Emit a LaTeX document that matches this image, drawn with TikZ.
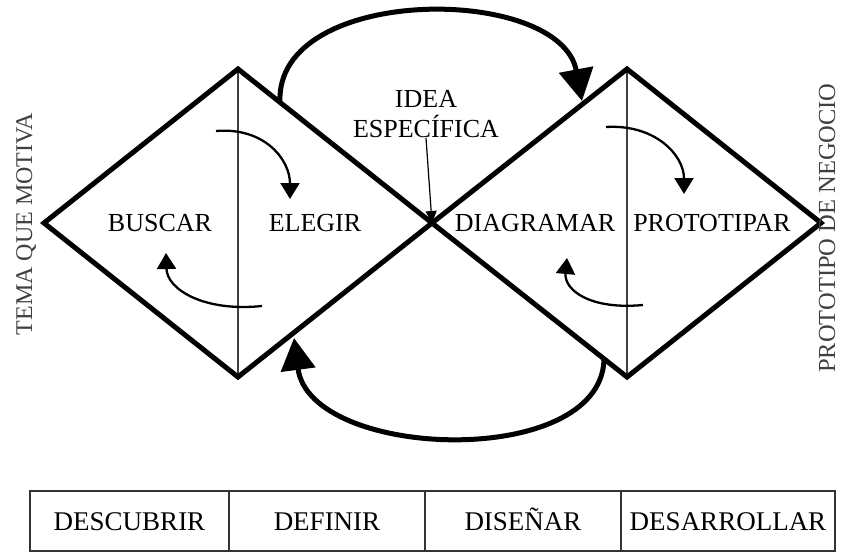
\documentclass[tikz,border=0pt]{standalone}
\usepackage{fontspec}
\setmainfont{Liberation Serif}
\usetikzlibrary{arrows.meta}
\usetikzlibrary{positioning}
\tikzstyle{rhomb}=[line width=5pt,draw=black,miter limit=20]
\tikzstyle{divider}=[line width=1.4pt,draw=black!75]
\tikzstyle{phase}=[inner sep=0mm,text height=17pt,text depth=0pt,font=\fontsize{26}{30}\selectfont]
\tikzstyle{cell}=[rectangle,draw=black!80,line width=1.6pt,inner sep=0mm,outer sep=0mm,minimum height=60pt,text height=18pt,text depth=0pt,font=\fontsize{27}{30}\selectfont]
\tikzstyle{side}=[rotate=90,inner sep=0mm,text height=16pt,text depth=0pt,text=black!75]
\tikzstyle{loop}=[line width=5pt,-{Triangle[length=32pt,width=34pt]}]
\tikzstyle{turn}=[line width=2.3pt,-{Triangle[length=16pt,width=19pt]}]
\tikzstyle{pointer}=[line width=1.2pt,-{Triangle[length=12pt,width=11pt]}]

\begin{document}
\begin{tikzpicture}[x=1pt,y=-1pt]
      \useasboundingbox (0,0) rectangle (841,554);
      % the two diamonds
      \coordinate (w1) at (44,223);
      \coordinate (n1) at (238,69);
      \coordinate (e1) at (432,223);
      \coordinate (s1) at (238,377);
      \coordinate (n2) at (627,69);
      \coordinate (e2) at (821,223);
      \coordinate (s2) at (627,377);
      \draw[divider] (n1) -- (s1);
      \draw[divider] (n2) -- (s2);
      \draw[rhomb] (w1) -- (n1) -- (e1) -- (s1) -- cycle;
      \draw[rhomb] (e1) -- (n2) -- (e2) -- (s2) -- cycle;
      % labels
      \node[phase] at (160,223) (buscar) {BUSCAR};
      \node[phase] at (315,223) (elegir) {ELEGIR};
      \node[phase] at (535,223) (diagramar) {DIAGRAMAR};
      \node[phase] at (712,223) (prototipar) {PROTOTIPAR};
      \node[phase,align=center,anchor=south,text height=] at (426,138) (idea) {IDEA\\ESPEC\'IFICA};
      \node[side,font=\fontsize{24}{28}\selectfont] at (24,224) (tema) {TEMA QUE MOTIVA};
      \node[side,font=\fontsize{24.5}{28}\selectfont] at (827,228) (negocio) {PROTOTIPO DE NEGOCIO};
      \draw[pointer] (idea.south) -- (e1);
      % big loops between the diamonds
      \coordinate (go) at (280,102);
      \coordinate (goend) at (582,101);
      \coordinate (back) at (604,360);
      \coordinate (backend) at (294,338);
      \draw[loop] (go) .. controls (275,-16) and (560,-16) .. (goend);
      \draw[loop] (back) .. controls (600,470) and (310,460) .. (backend);
      % small turns inside the diamonds
      \coordinate (t1) at (216,131);
      \coordinate (t1end) at (290,199);
      \coordinate (t2) at (262,306);
      \coordinate (t2end) at (166,253);
      \coordinate (t3) at (606,127);
      \coordinate (t3end) at (684,194);
      \coordinate (t4) at (643,305);
      \coordinate (t4end) at (567,258);
      \draw[turn] (t1) .. controls (265,127) and (290,160) .. (t1end);
      \draw[turn] (t2) .. controls (205,312) and (167,290) .. (t2end);
      \draw[turn] (t3) .. controls (655,124) and (684,155) .. (t3end);
      \draw[turn] (t4) .. controls (590,310) and (564,290) .. (t4end);
      % phases table
      \node[cell,minimum width=199pt] at (129.5,521) (descubrir) {DESCUBRIR};
      \node[cell,minimum width=196pt,right=0pt of descubrir] (definir) {DEFINIR};
      \node[cell,minimum width=196pt,right=0pt of definir] (disenar) {DISEÑAR};
      \node[cell,minimum width=214pt,right=0pt of disenar] (desarrollar) {DESARROLLAR};
    \end{tikzpicture}
\end{document}
